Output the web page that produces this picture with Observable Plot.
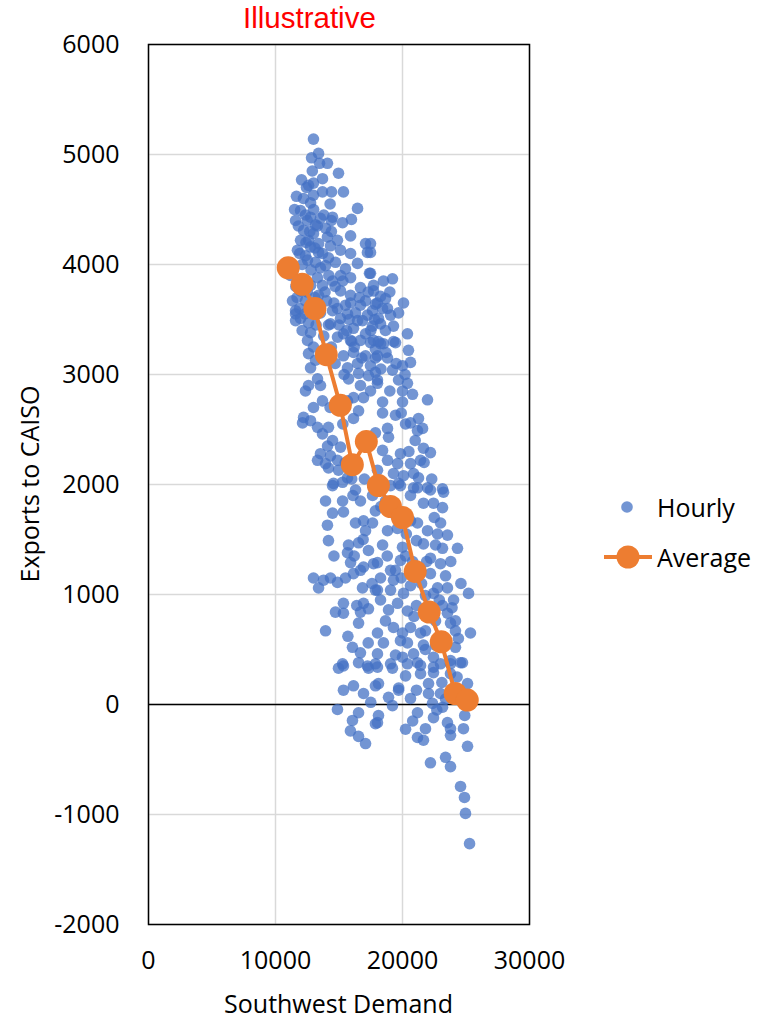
<!DOCTYPE html>
<html><head><meta charset="utf-8">
<script src="https://cdn.jsdelivr.net/npm/d3@7"></script>
<script src="https://cdn.jsdelivr.net/npm/@observablehq/plot@0.6"></script>
<style>
body{margin:0;background:#fff;}
#wrap{position:relative;width:759px;height:1019px;overflow:hidden;}
#title{position:absolute;left:243px;top:1px;color:#ff0000;font-family:"Liberation Sans",Arial,sans-serif;font-size:29.5px;white-space:nowrap;}
#xlabel{position:absolute;left:148px;width:381px;top:986px;text-align:center;font-family:"Open Sans",sans-serif;font-size:25px;color:#000;white-space:nowrap;}
#ylabel{position:absolute;left:29px;top:484px;transform:translate(-50%,-50%) rotate(-90deg);font-family:"Open Sans",sans-serif;font-size:25px;color:#000;white-space:nowrap;}
#legend{position:absolute;left:0;top:0;}
</style>
</head><body>
<div id="wrap">
<div id="chart"></div>
<div id="title">Illustrative</div>
<div id="ylabel">Exports to CAISO</div>
<div id="xlabel">Southwest Demand</div>
</div>
<script>
const xTicks = [0, 10000, 20000, 30000];
const yTicks = [-2000, -1000, 0, 1000, 2000, 3000, 4000, 5000, 6000];

// Average series
const avgDemand  = [11000, 12100, 13100, 14000, 15100, 16050, 17150, 18100, 19050, 20000, 21000, 22100, 23050, 24150, 25100];
const avgExports = [3970, 3820, 3600, 3180, 2720, 2180, 2390, 1990, 1800, 1700, 1210, 840, 570, 100, 40];

// Hourly series: [Southwest Demand, Exports to CAISO]
const hourly = [
[12990,5140],[13390,5010],[12840,4970],[13470,4920],[14090,4920],[14960,4830],[12050,4770],[12990,4740],
[12440,4700],[13700,4660],[14410,4660],[15350,4660],[12990,4630],[12760,4560],[12600,4720],[11650,4620],
[16460,4510],[11970,4490],[12760,4430],[13540,4420],[14490,4430],[15280,4380],[15980,4410],[11580,4400],
[12210,4310],[12990,4280],[14090,4250],[14880,4220],[15910,4260],[17090,4190],[11970,4220],[11730,4130],
[12760,4160],[13390,4110],[14170,4060],[15910,4100],[17240,4110],[12520,4040],[13540,3970],
[12360,4450],[13150,4360],[13940,4330],[12600,4220],[13390,4190],[14330,4170],[15120,4130],[12360,4080],
[13150,4020],[13940,3990],[14720,4020],[15510,3960],[11500,4500],[11800,4350],
[16460,4010],[17400,3920],[15120,3900],[15910,3880],[16690,3790],[18030,3650],[14490,3850],[13700,3810],
[11970,3760],[11340,3670],[11580,3580],[12360,3670],[15120,3760],[15910,3720],[17090,3670],[18270,3710],
[17480,4190],[17480,4110],[17480,3920],[17720,3810],[17720,3760],[19210,3870],[18660,3690],[20080,3650],
[18820,3600],[17870,3640],[18430,3600],
[11180,3900],[11810,3850],[12760,3810],[13390,3720],[14020,3670],[12910,3630],[13540,3560],[14490,3580],
[15120,3510],[11970,3510],[12600,3470],[14170,3450],[15510,3630],[16300,3560],[16850,3490],
[11400,3950],[11700,3700],[11900,3600],
[11580,3550],[11580,3490],[12760,3380],[12520,3310],[12990,3250],[12600,3190],[13150,3130],[12760,3060],
[12360,2850],[13310,2960],[13540,2900],[13700,2760],[12990,2700],[12210,2610],[12760,2580],[13310,2520],
[12130,2560],[13700,2460],[14170,2520],[14490,2400],[15120,2340],[13540,2280],[14330,2260],[13310,2220],
[13940,2190],[14880,2220],[14960,2130],[14170,2150],[15670,2060],[15280,2020],[14570,2010],[16140,2600],
[16540,2670],[15670,2760],[16140,2790],[16930,2790],[17480,2850],[16690,2900],[15750,2960],[16540,3010],
[17320,2990],[18030,2950],[15670,3060],[16460,3100],[17480,3080],[15350,3170],[16140,3200],[17090,3170],
[17870,3150],[15910,3310],[16690,3310],[17480,3290],[18270,3280],[15350,3370],[16140,3420],[17090,3370],
[16460,3490],[17240,3540],[15670,3550],[14880,3600],[15910,3650],[16690,3630],[14330,3460],[14880,3340],
[18270,3460],[19290,3440],[20390,3370],[17720,3310],[18500,3280],[19450,3290],[20470,3220],[18030,3170],
[18820,3150],[20630,3110],[20000,3080],[19210,3040],[17870,3020],[19690,2950],[20390,2920],[18030,2920],
[20000,2850],[20790,2820],[21970,2770],[18430,2750],[20000,2750],[18430,2650],[19450,2630],[20240,2550],
[21260,2600],[20630,2560],[21180,2490],[21580,2510],[18820,2510],[17870,2470],[18900,2430],[18430,2310],
[19840,2280],[21650,2330],[22200,2290],[18820,2220],[19610,2190],[20630,2190],[21420,2220],[18030,2130],
[19290,2100],[20080,2080],[20870,2100],[21260,2060],[19690,2010],[19060,1990],[20870,1970],[21970,1970],
[23150,1960],[17640,3580],[18110,3510],[19060,3540],[17640,3440],[18660,3400],[19690,3560],[17870,3230],
[14490,1990],[13940,1850],[15280,1850],[14490,1740],[15350,1750],[14090,1630],[16300,1650],[16930,1670],
[17640,1650],[14170,1490],[15750,1450],[16540,1470],[17320,1400],[15670,1380],[15910,1290],[16930,1250],
[17720,1280],[12990,1150],[13780,1130],[14330,1150],[14880,1110],[15510,1150],[16140,1190],[16690,1220],
[13390,1060],[16850,1060],[17870,1040],[15350,920],[14720,840],[15350,830],[16690,840],[16930,920],
[17320,870],[16540,740],[13940,670],[16060,520],[16690,470],[15280,370],[16540,380],[17240,350],[17870,370],
[19840,1990],[21180,1970],[22200,1950],[23230,1930],[20630,1900],[21650,1830],[22440,1830],[23150,1790],
[18820,1580],[21180,1650],[21970,1580],[22760,1550],[23540,1540],[18430,1450],[20000,1430],[21650,1460],
[23150,1420],[24330,1420],[18030,1290],[19840,1310],[22200,1330],[22990,1280],[19060,1220],[22200,1190],
[18270,1150],[19290,1130],[22760,1060],[23540,1060],[18030,1040],[20080,1010],[22440,1010],[25200,1010],
[18270,950],[19610,920],[23150,900],[24020,950],[20390,850],[23540,830],[19290,700],[20630,700],
[23780,740],[18030,650],[20000,650],[21420,650],[24170,670],[25350,650],[18500,560],[20390,560],
[21650,540],[24170,520],[18030,460],[19450,450],[20870,460],[22440,430],[19060,370],[21180,380],
[22990,370],[24570,380],
[18660,1850],[19450,1720],[17870,1760],[17090,1580],[16690,1850],[17640,1900],[16300,1950],[20630,1670],
[21100,1490],[20240,1350],[21420,1220],[20630,1080],[21810,990],[21100,900],[22600,760],[21810,670],
[23390,580],[19060,1040],[19450,1220],[18660,760],[19840,580],[23780,400],[22600,540],[23390,1170],[24170,760],
[14960,330],[15350,350],[17320,330],[18030,340],[15350,130],[16140,170],[16930,100],[17870,170],
[14880,-45],[16540,-75],[16060,-145],[18030,-165],[16540,-290],[17090,-355],
[19210,330],[20390,370],[21420,355],[22440,340],[23780,370],[24720,380],[18110,190],[20240,260],
[21420,280],[22440,290],[23780,280],[19690,130],[20630,55],[22050,190],[22050,100],[22990,100],
[25120,190],[18900,65],[19210,-10],[22360,10],[23150,-25],[21180,-75],[22440,-120],[18110,-100],
[17870,-175],[20240,-225],[21810,-220],[23540,-165],[23780,-220],[24800,-220],[21180,-300],[21650,-325],
[23780,-280],[25120,-380],[22200,-530],[23390,-480],[23780,-565],[24570,-745],[24880,-845],[24960,-990],
[25280,-1265],[24170,130],[24570,40],[23390,50],[21100,130],
[12200,4600],[12500,4400],[13000,4500],[13300,4350],[12700,4300],[13800,4450],[14300,4550],[12400,4200],
[13100,4150],[13700,4100],[14400,4300],[12100,4000],[12800,3950],[13300,3880],[14200,3900],[14700,3800],
[12500,3750],[13100,3700],[13900,3750],[14600,3650],[15300,3850],[12300,3550],[13200,3450],[13800,3350],
[14400,3250],[15000,3450],[15600,3400],[16000,3300],[14700,3100],[15400,3000],[16200,3250],[16800,3150],
[17500,3400],[18100,3300],[18700,3200],[19300,3300],[16600,3700],[17300,3750],[18500,3850],[19000,3750],
[17800,3500],[19500,3100],[20200,3000],[19000,2850],[12600,2900],[14300,2700],[15300,2550],[14100,2350],
[15500,2200],[16000,2050],[12900,4850],[13700,4780],[14400,4400],[11900,4100],[11600,3800],[12100,3400],
[15800,3500],[18300,3050],[19900,2650],[21000,2400],[20500,2300],[21700,2200],[22300,2050],[23000,1650],
[22500,1700],[23800,1300],[24600,1100],[22900,950],[23900,880],[24400,600],[20900,800],[21500,1100],
[19900,1150],[20800,1300],[18800,1350],[17600,1100],[16400,900],[15700,620],[17300,560],[18900,860],
[20000,430],[21800,500],[23100,200],[24300,250],[22700,-50],[20800,-150],[19700,150],[17500,20],
[15900,-240],[24900,-100],[16100,1900],[17000,2050],[18300,1800],[19600,1600],[20300,1550],[21900,1300],
[22600,1450],[16900,1500],[16200,1350],[14600,1350]
];

const avg = avgDemand.map((x, i) => ({x, y: avgExports[i]}));
const pts = hourly.map(([x, y]) => ({x, y}));

const chart = Plot.plot({
  width: 759,
  height: 1019,
  marginLeft: 148,
  marginRight: 230,
  marginTop: 44,
  marginBottom: 95,
  style: "font-family:'Open Sans',sans-serif;font-size:25px;color:#000;background:#fff;",
  x: {domain: [0, 30000], ticks: xTicks, tickSize: 0, tickPadding: 27, tickFormat: d => String(d), label: null},
  y: {domain: [-2000, 6000], ticks: yTicks, tickSize: 0, tickPadding: 29, tickFormat: d => String(d), label: null},
  marks: [
    Plot.gridX(xTicks, {stroke: "#d9d9d9", strokeOpacity: 1, strokeWidth: 1.5}),
    Plot.gridY(yTicks, {stroke: "#d9d9d9", strokeOpacity: 1, strokeWidth: 1.5}),
    Plot.ruleY([0], {stroke: "#000", strokeWidth: 1.5}),
    Plot.dot(pts, {x: "x", y: "y", r: 5.8, fill: "#4472C4", fillOpacity: 0.75, stroke: "none"}),
    Plot.line(avg, {x: "x", y: "y", stroke: "#ED7D31", strokeWidth: 4}),
    Plot.dot(avg, {x: "x", y: "y", r: 11.5, fill: "#ED7D31", stroke: "none"}),
    Plot.frame({stroke: "#000", strokeWidth: 1.5})
  ]
});
document.getElementById("chart").appendChild(chart);

// Legend
const ns = "http://www.w3.org/2000/svg";
const leg = document.createElementNS(ns, "svg");
leg.setAttribute("id", "legend");
leg.setAttribute("width", 759);
leg.setAttribute("height", 1019);
leg.innerHTML = `
  <circle cx="627" cy="507" r="5.8" fill="#4472C4" fill-opacity="0.75"></circle>
  <text x="657" y="507" dominant-baseline="central" font-family="Open Sans, sans-serif" font-size="25" fill="#000">Hourly</text>
  <line x1="604" x2="652" y1="557" y2="557" stroke="#ED7D31" stroke-width="4"></line>
  <circle cx="628" cy="557" r="11.5" fill="#ED7D31"></circle>
  <text x="657" y="557" dominant-baseline="central" font-family="Open Sans, sans-serif" font-size="25" fill="#000">Average</text>`;
document.getElementById("wrap").appendChild(leg);
</script>
</body></html>
